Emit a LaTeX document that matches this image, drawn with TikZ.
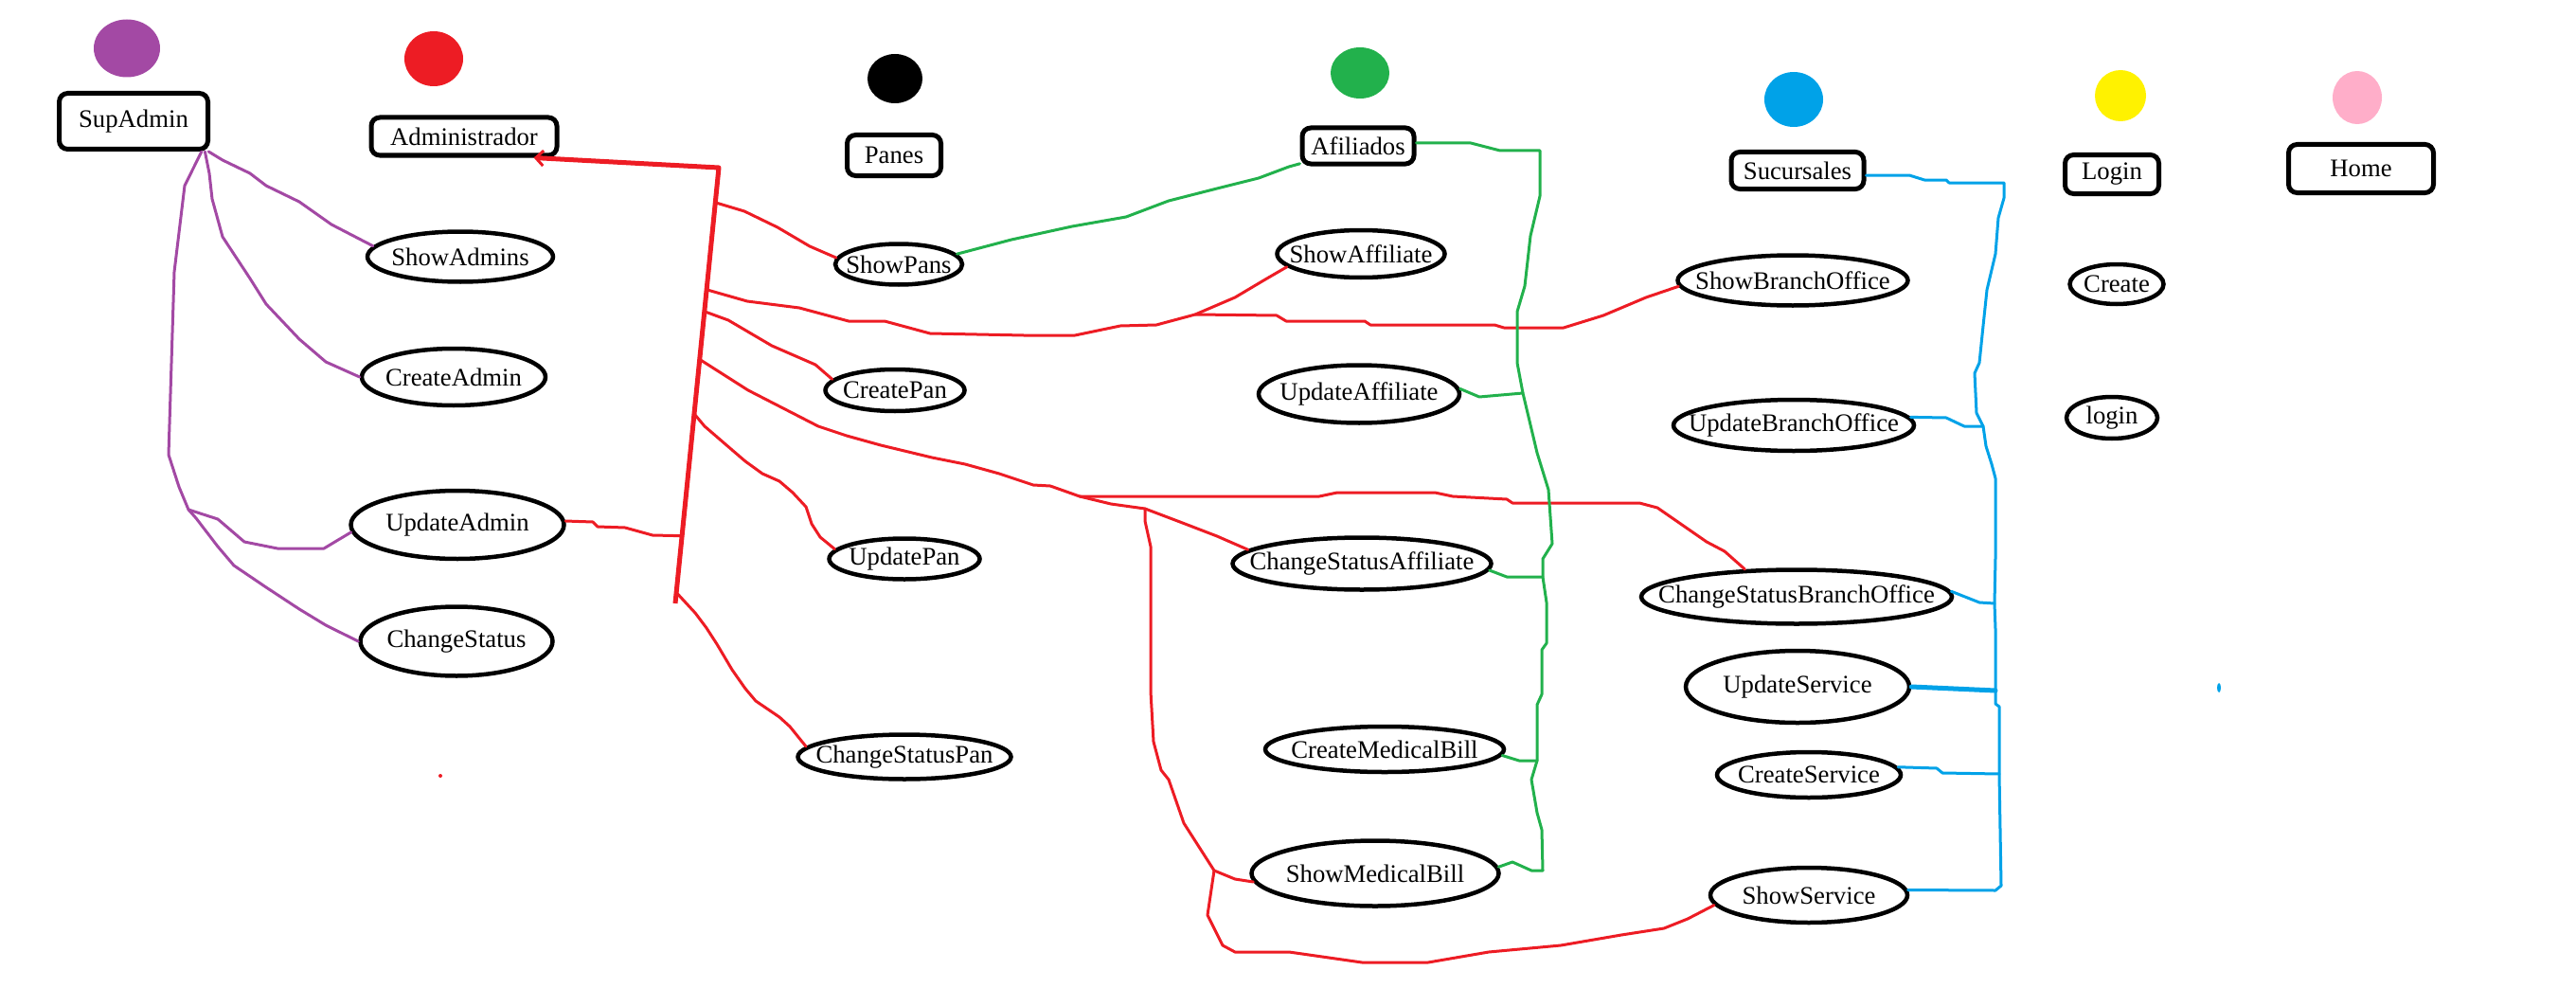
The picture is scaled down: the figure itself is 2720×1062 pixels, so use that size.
\documentclass[tikz,border=0pt]{standalone}
\usepackage{fontspec}
\setmainfont{Liberation Serif}[Ligatures=CommonOff]
\usetikzlibrary{shapes.geometric,arrows.meta,calc}

\definecolor{supcolor}{RGB}{163,73,164}
\definecolor{admcolor}{RGB}{237,28,36}
\definecolor{afiliadoscolor}{RGB}{34,177,76}
\definecolor{sucursalescolor}{RGB}{0,162,232}
\definecolor{logincolor}{RGB}{255,242,0}
\definecolor{homecolor}{RGB}{255,174,201}

% text of a use case, kept out of the ellipse size
\newcommand{\uctext}[1]{\makebox[0pt]{#1}}

\begin{document}
\begin{tikzpicture}[x=1pt, y=-1pt,
    every node/.style={font=\fontsize{26.7}{32}\selectfont, inner sep=0pt},
    actor/.style={ellipse, fill=#1},
    module/.style={draw, line width=5pt, rounded corners=9pt},
    usecase/.style={ellipse, draw, line width=4.5pt},
    supline/.style={draw=supcolor, line width=3pt, line join=round, line cap=round},
    admline/.style={draw=admcolor, line width=3pt, line join=round, line cap=round},
    admbar/.style={draw=admcolor, line width=5pt, line join=round},
    afiline/.style={draw=afiliadoscolor, line width=3pt, line join=round, line cap=round},
    sucline/.style={draw=sucursalescolor, line width=3pt, line join=round, line cap=round}]
    \useasboundingbox (0,0) rectangle (2720,1062);

    % Define actors
    \node[actor=supcolor, minimum width=70pt, minimum height=61pt] (supdot) at (134,51) {};
    \node[actor=admcolor, minimum width=62pt, minimum height=58pt] (admdot) at (458,62) {};
    \node[actor=black, minimum width=58pt, minimum height=52pt] (pandot) at (945,83) {};
    \node[actor=afiliadoscolor, minimum width=62pt, minimum height=54pt] (afidot) at (1436,77) {};
    \node[actor=sucursalescolor, minimum width=62pt, minimum height=58pt] (sucdot) at (1894,105) {};
    \node[actor=logincolor, minimum width=54pt, minimum height=54pt] (logdot) at (2239,101) {};
    \node[actor=homecolor, minimum width=52pt, minimum height=56pt] (homdot) at (2489,103) {};

    % Define modules
    \node[module, minimum width=157pt, minimum height=59pt] (supadmin) at (141,128) {SupAdmin};
    \node[module, minimum width=196pt, minimum height=40pt] (administrador) at (490,144) {Administrador};
    \node[module, minimum width=99pt, minimum height=43pt] (panes) at (944,164) {Panes};
    \node[module, minimum width=118pt, minimum height=38pt] (afiliados) at (1434,154) {Afiliados};
    \node[module, minimum width=140pt, minimum height=39pt] (sucursales) at (1898,180) {Sucursales};
    \node[module, minimum width=99pt, minimum height=41pt] (login) at (2230,184) {Login};
    \node[module, minimum width=153pt, minimum height=51pt] (home) at (2493,178) {Home};

    % Define use cases
    \node[usecase, minimum width=196pt, minimum height=53pt] (showadmins) at (486,271) {\uctext{ShowAdmins}};
    \node[usecase, minimum width=194pt, minimum height=60pt] (createadmin) at (479,398) {\uctext{CreateAdmin}};
    \node[usecase, minimum width=225pt, minimum height=72pt] (updateadmin) at (483,554) {\uctext{UpdateAdmin}};
    \node[usecase, minimum width=203pt, minimum height=73pt] (changestatus) at (482,677) {\uctext{ChangeStatus}};
    \node[usecase, minimum width=134pt, minimum height=43pt] (showpans) at (949,279) {\uctext{ShowPans}};
    \node[usecase, minimum width=147pt, minimum height=44pt] (createpan) at (945,412) {\uctext{CreatePan}};
    \node[usecase, minimum width=159pt, minimum height=43pt] (updatepan) at (955,590) {\uctext{UpdatePan}};
    \node[usecase, minimum width=225pt, minimum height=47pt] (changestatuspan) at (955,799) {\uctext{ChangeStatusPan}};
    \node[usecase, minimum width=177pt, minimum height=50pt] (showaffiliate) at (1437,268) {\uctext{ShowAffiliate}};
    \node[usecase, minimum width=212pt, minimum height=61pt] (updateaffiliate) at (1435,416) {\uctext{UpdateAffiliate}};
    \node[usecase, minimum width=273pt, minimum height=55pt] (changestatusaffiliate) at (1438,595) {\uctext{ChangeStatusAffiliate}};
    \node[usecase, minimum width=252pt, minimum height=48pt] (createmedicalbill) at (1462,791) {\uctext{CreateMedicalBill}};
    \node[usecase, minimum width=261pt, minimum height=69pt] (showmedicalbill) at (1452,922) {\uctext{ShowMedicalBill}};
    \node[usecase, minimum width=243pt, minimum height=53pt] (showbranchoffice) at (1893,296) {\uctext{ShowBranchOffice}};
    \node[usecase, minimum width=254pt, minimum height=54pt] (updatebranchoffice) at (1894,449) {\uctext{UpdateBranchOffice}};
    \node[usecase, minimum width=328pt, minimum height=57pt] (changestatusbranchoffice) at (1897,630) {\uctext{ChangeStatusBranchOffice}};
    \node[usecase, minimum width=236pt, minimum height=76pt] (updateservice) at (1898,725) {\uctext{UpdateService}};
    \node[usecase, minimum width=194pt, minimum height=48pt] (createservice) at (1910,818) {\uctext{CreateService}};
    \node[usecase, minimum width=208pt, minimum height=58pt] (showservice) at (1910,945) {\uctext{ShowService}};
    \node[usecase, minimum width=99pt, minimum height=42pt] (create) at (2235,300) {\uctext{Create}};
    \node[usecase, minimum width=96pt, minimum height=44pt] (loginuc) at (2230,441) {\uctext{login}};

    % Draw SupAdmin edges
    \coordinate (supsplit) at (199,538);
    \draw[supline] (supadmin.-22) -- (235,169) -- (264,183) -- (281,196) -- (316,213) -- (350,237) -- (showadmins.173);
    \draw[supline] (supadmin.-23) -- (221,183) -- (224,210) -- (235,250) -- (264,294) -- (281,321) -- (316,358) -- (344,382) -- (createadmin.west);
    \draw[supline] (supadmin.-24) -- (195,196) -- (184,287) -- (178,480) -- (189,514) -- (supsplit) -- (230,548) -- (258,572) -- (293,579) -- (342,579) -- (updateadmin.184);
    \draw[supline] (supsplit) -- (207,547) -- (230,577) -- (247,597) -- (281,620) -- (316,643) -- (344,660) -- (changestatus.west);

    % Draw Administrador edges
    \coordinate (bartop) at (759,177);
    \coordinate (barbot) at (713,637);
    \draw[admbar, -{Straight Barb[length=8pt, width=16pt, line width=3pt]}] (barbot) -- (bartop) -- (administrador.-17);
    \coordinate (barpans) at ($(bartop)!0.08!(barbot)$);
    \coordinate (barbranch) at ($(bartop)!0.28!(barbot)$);
    \coordinate (barcreate) at ($(bartop)!0.33!(barbot)$);
    \coordinate (barlong) at ($(bartop)!0.44!(barbot)$);
    \coordinate (barupdpan) at ($(bartop)!0.565!(barbot)$);
    \coordinate (barupdadm) at ($(bartop)!0.845!(barbot)$);
    \coordinate (barcspan) at ($(bartop)!0.975!(barbot)$);
    \coordinate (affsplit) at (1262,332);
    \coordinate (cssplit) at (1140,524);
    \coordinate (vsplit) at (1209,537);
    \coordinate (msplit) at (1282,919);
    \draw[admline] (barpans) -- (786,223) -- (821,240) -- (855,260) -- (showpans.174);
    \draw[admline] (barbranch) -- (789,318) -- (844,325) -- (896,339) -- (934,339) -- (982,352) -- (1081,354) -- (1135,354) -- (1183,344) -- (1221,343) -- (affsplit) -- (1348,333) -- (1358,339) -- (1441,339) -- (1447,343) -- (1578,343) -- (1588,346) -- (1651,346) -- (1693,333) -- (1738,314) -- (showbranchoffice.183);
    \draw[admline] (affsplit) -- (1304,314) -- (1336,295) -- (showaffiliate.190);
    \draw[admline] (barcreate) -- (769,338) -- (815,365) -- (861,385) -- (createpan.170);
    \draw[admline] (barlong) -- (790,412) -- (864,450) -- (894,460) -- (930,470) -- (984,483) -- (1019,490) -- (1055,500) -- (1091,512) -- (1109,513) -- (cssplit) -- (1189,524) -- (1393,524) -- (1412,520) -- (1515,520) -- (1534,524) -- (1591,527) -- (1597,531) -- (1731,531) -- (1750,536) -- (1776,554) -- (1802,572) -- (1821,582) -- (changestatusbranchoffice.152);
    \draw[admline] (cssplit) -- (1173,532) -- (vsplit) -- (1246,551) -- (1285,566) -- (changestatusaffiliate.173);
    \draw[admline] (vsplit) -- (1209,550) -- (1215,577) -- (1215,730) -- (1218,783) -- (1226,813) -- (1234,823) -- (1250,869) -- (1266,894) -- (msplit) -- (1304,928) -- (showmedicalbill.184);
    \draw[admline] (msplit) -- (1275,966) -- (1291,998) -- (1304,1005) -- (1361,1005) -- (1438,1016) -- (1508,1016) -- (1572,1005) -- (1648,998) -- (1712,987) -- (1757,980) -- (1782,970) -- (showservice.186);
    \draw[admline] (updateadmin.2) -- (626,551) -- (631,556) -- (660,557) -- (689,565) -- (barupdadm);
    \draw[admline] (barupdpan) -- (744,450) -- (773,475) -- (787,487) -- (805,500) -- (823,508) -- (837,520) -- (851,535) -- (857,553) -- (866,567) -- (updatepan.172);
    \draw[admline] (barcspan) -- (734,647) -- (746,663) -- (757,680) -- (773,707) -- (787,727) -- (798,740) -- (823,757) -- (834,767) -- (changestatuspan.174);
    \fill[admcolor] (465,819) circle (2pt);

    % Draw Afiliados edges
    \coordinate (gj1) at (1608,415);
    \coordinate (gj2) at (1629,609);
    \coordinate (gj3) at (1623,803);
    \coordinate (gj4) at (1629,919);
    \draw[afiline] (showpans.10) -- (1068,253) -- (1132,239) -- (1189,229) -- (1234,212) -- (1285,199) -- (1329,188) -- (1361,176) -- (afiliados.197);
    \draw[afiline] (afiliados.3) -- (1553,151) -- (1584,159) -- (1626,159) -- (1626,207) -- (1616,249) -- (1610,302) -- (1602,329) -- (1602,383) -- (gj1) -- (1623,478) -- (1635,517) -- (1639,574) -- (1629,590) -- (gj2) -- (1633,636) -- (1633,679) -- (1628,686) -- (1628,733) -- (1623,744) -- (gj3) -- (1617,823) -- (1623,858) -- (1628,876) -- (gj4) -- (1617,919) -- (1597,910) -- (showmedicalbill.3);
    \draw[afiline] (updateaffiliate.3) -- (1562,419) -- (gj1);
    \draw[afiline] (changestatusaffiliate.-3) -- (1591,609) -- (gj2);
    \draw[afiline] (createmedicalbill.-3) -- (1604,803) -- (gj3);

    % Draw Sucursales edges
    \coordinate (bj1) at (2094,450);
    \coordinate (bj2) at (2106,637);
    \coordinate (bj3) at (2107,729);
    \coordinate (bj4) at (2111,817);
    \draw[sucline] (sucursales.-4) -- (2016,185) -- (2032,190) -- (2055,190) -- (2058,193) -- (2116,193) -- (2116,209) -- (2110,230) -- (2107,268) -- (2098,306) -- (2094,344) -- (2090,383) -- (2085,394) -- (2087,436) -- (bj1) -- (2097,471) -- (2103,490) -- (2107,505) -- (2107,589) -- (bj2) -- (2107,664) -- (bj3) -- (2107,743) -- (2111,746) -- (bj4) -- (2113,935) -- (2107,940) -- (showservice.3);
    \draw[sucline] (updatebranchoffice.4) -- (2055,441) -- (2074,450) -- (bj1);
    \draw[sucline] (changestatusbranchoffice.2) -- (2090,636) -- (bj2);
    \draw[sucline, line width=5pt] (updateservice.east) -- (bj3);
    \draw[sucline] (createservice.5) -- (2045,811) -- (2051,816) -- (bj4);
    \fill[sucursalescolor] (2343,726) ellipse (2pt and 5pt);
\end{tikzpicture}
\end{document}
